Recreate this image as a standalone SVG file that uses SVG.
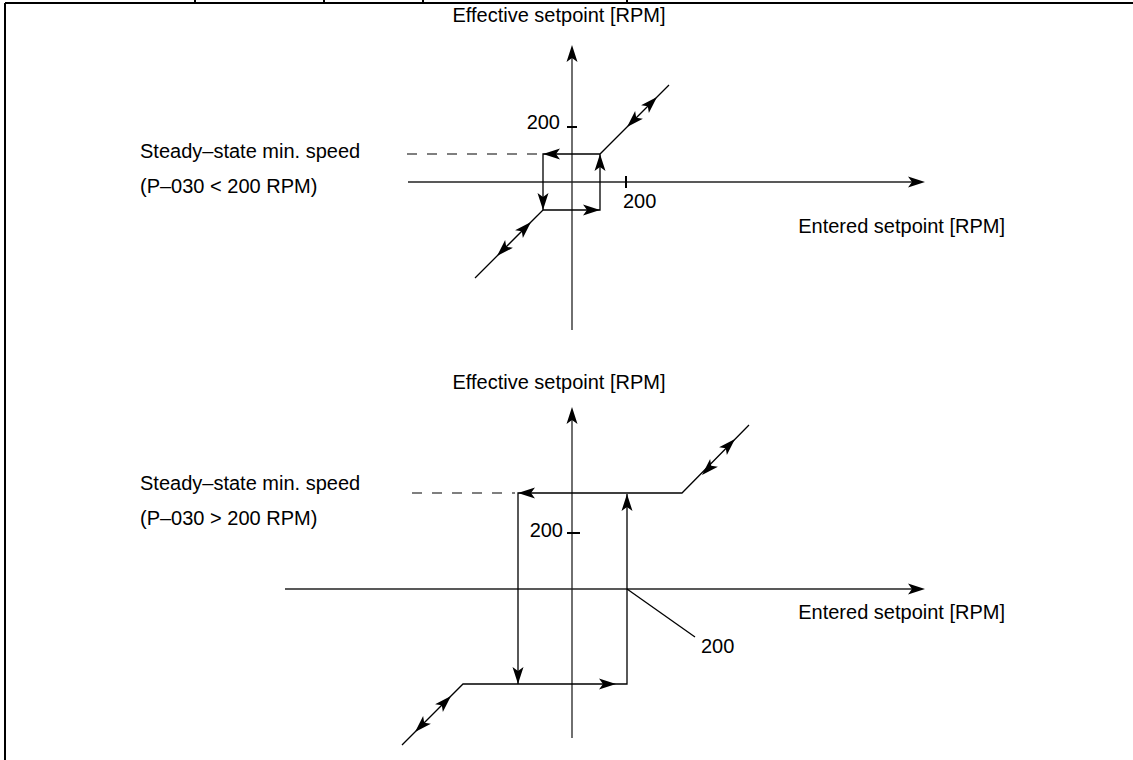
<svg xmlns="http://www.w3.org/2000/svg" width="1133" height="760" viewBox="0 0 1133 760">
<style>
  .t { font-family: "Liberation Sans", Arial, sans-serif; font-size: 20px; fill: #000; }
  .ln { stroke: #000; stroke-width: 1.3; fill: none; }
  .ax { stroke: #222; stroke-width: 1.3; fill: none; }
  .tk { stroke: #000; stroke-width: 2; fill: none; }
  .ds { stroke: #555; stroke-width: 1.3; stroke-dasharray: 10 10; fill: none; }
  .fr { stroke: #000; stroke-width: 2; fill: none; }
</style>
<defs>
  <path id="ah" d="M0,0 L-17,-5.5 L-13,0 L-17,5.5 Z" fill="#000"/>
</defs>
<rect x="0" y="0" width="1133" height="760" fill="#fff"/>
<g id="frame">
  <line class="fr" x1="5" y1="3" x2="1133" y2="3"/>
  <line class="fr" x1="5" y1="3" x2="5" y2="760"/>
  <line class="fr" x1="195" y1="0" x2="195" y2="3"/>
  <line class="fr" x1="324" y1="0" x2="324" y2="3"/>
  <line class="fr" x1="423" y1="0" x2="423" y2="3"/>
  <line class="fr" x1="627" y1="0" x2="627" y2="3"/>
</g>

<g id="top-diagram">
  <g id="top-axes">
    <line class="ax" x1="572" y1="50" x2="572" y2="330"/>
    <use href="#ah" transform="translate(572,45) rotate(-90)"/>
    <line class="ax" x1="408" y1="182" x2="920" y2="182"/>
    <use href="#ah" transform="translate(925,182)"/>
    <line class="tk" x1="567" y1="127" x2="577" y2="127"/>
    <line class="tk" x1="626" y1="176" x2="626" y2="188"/>
  </g>
  <g id="top-labels">
    <text class="t" x="559" y="22" text-anchor="middle">Effective setpoint [RPM]</text>
    <text class="t" x="560" y="129" text-anchor="end">200</text>
    <text class="t" x="623" y="208">200</text>
    <text class="t" x="1005" y="233" text-anchor="end">Entered setpoint [RPM]</text>
    <text class="t" x="140" y="158">Steady–state min. speed</text>
    <text class="t" x="140" y="193">(P–030 &lt; 200 RPM)</text>
  </g>
  <g id="top-connectors">
    <line class="ds" x1="407" y1="154" x2="540" y2="154"/>
    <polyline class="ln" points="669,85 600,154 543,154 543,210 600,210 600,154"/>
    <line class="ln" x1="543" y1="210" x2="475" y2="278"/>
    <use href="#ah" transform="translate(543,154) rotate(180)"/>
    <use href="#ah" transform="translate(600,154) rotate(-90)"/>
    <use href="#ah" transform="translate(543,210) rotate(90)"/>
    <use href="#ah" transform="translate(600,210)"/>
    <use href="#ah" transform="translate(657,97) rotate(-45)"/>
    <use href="#ah" transform="translate(627,127) rotate(135)"/>
    <use href="#ah" transform="translate(531,222) rotate(-45)"/>
    <use href="#ah" transform="translate(497,256) rotate(135)"/>
  </g>
</g>

<g id="bottom-diagram">
  <g id="bottom-axes">
    <line class="ax" x1="572" y1="412" x2="572" y2="738"/>
    <use href="#ah" transform="translate(572,407) rotate(-90)"/>
    <line class="ax" x1="285" y1="589" x2="920" y2="589"/>
    <use href="#ah" transform="translate(925,589)"/>
    <line class="tk" x1="567" y1="533" x2="580" y2="533"/>
  </g>
  <g id="bottom-labels">
    <text class="t" x="559" y="389" text-anchor="middle">Effective setpoint [RPM]</text>
    <text class="t" x="563" y="537" text-anchor="end">200</text>
    <text class="t" x="701" y="653">200</text>
    <text class="t" x="1005" y="619" text-anchor="end">Entered setpoint [RPM]</text>
    <text class="t" x="140" y="490">Steady–state min. speed</text>
    <text class="t" x="140" y="525">(P–030 &gt; 200 RPM)</text>
  </g>
  <g id="bottom-connectors">
    <line class="ds" x1="412" y1="493" x2="515" y2="493"/>
    <polyline class="ln" points="749,425 682,493 518,493 518,684"/>
    <polyline class="ln" points="402,745 463,684 627,684 627,494"/>
    <line class="ln" x1="627" y1="589" x2="695" y2="637"/>
    <use href="#ah" transform="translate(518,493) rotate(180)"/>
    <use href="#ah" transform="translate(627,494) rotate(-90)"/>
    <use href="#ah" transform="translate(518,684) rotate(90)"/>
    <use href="#ah" transform="translate(616,684)"/>
    <use href="#ah" transform="translate(735,439) rotate(-45)"/>
    <use href="#ah" transform="translate(702,475) rotate(135)"/>
    <use href="#ah" transform="translate(451,696) rotate(-45)"/>
    <use href="#ah" transform="translate(415,732) rotate(135)"/>
  </g>
</g>
</svg>
